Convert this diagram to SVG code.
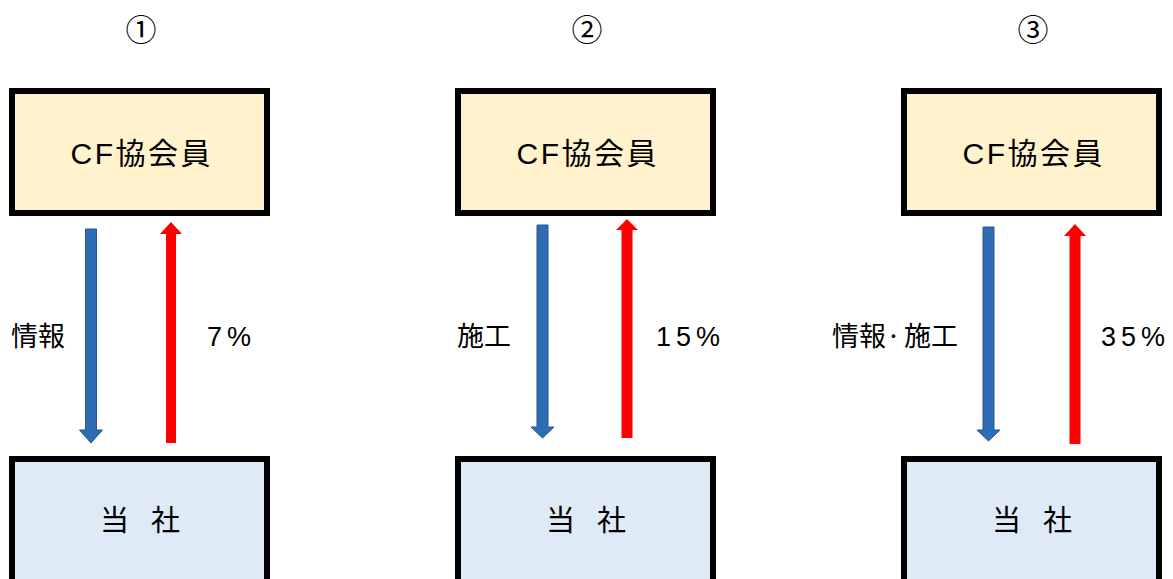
<svg xmlns="http://www.w3.org/2000/svg" width="1173" height="579" viewBox="0 0 1173 579">
<style>
.top{fill:#FFF2CC;stroke:#000;stroke-width:6}
.bot{fill:#DEEBF7;stroke:#000;stroke-width:6}
.t{font-family:"Liberation Sans","Noto Sans CJK JP",sans-serif;fill:#000}
.j{font-family:"Noto Sans CJK JP","Liberation Sans",sans-serif;fill:#000}
.blue{fill:#2E6DB4;stroke:#2F528F;stroke-width:1}
.red{fill:#FF0000}
</style>
<rect width="1173" height="579" fill="#fff"/>
<g id="headers">
<text class="j" x="141" y="41" font-size="31" text-anchor="middle">①</text>
<text class="j" x="587" y="41" font-size="31" text-anchor="middle">②</text>
<text class="j" x="1033" y="41" font-size="31" text-anchor="middle">③</text>
</g>
<g id="cf1"><rect class="top" x="12" y="91" width="255" height="122"/><text class="t" x="70.5" y="163.5" font-size="30" letter-spacing="2.5">CF協会員</text></g>
<g id="cf2"><rect class="top" x="458" y="91" width="255" height="122"/><text class="t" x="516.5" y="163.5" font-size="30" letter-spacing="2.5">CF協会員</text></g>
<g id="cf3"><rect class="top" x="904" y="91" width="255" height="122"/><text class="t" x="962.5" y="163.5" font-size="30" letter-spacing="2.5">CF協会員</text></g>
<g id="co1"><rect class="bot" x="12" y="459" width="255" height="140"/><text class="j" x="100" y="531" font-size="29">当<tspan x="151">社</tspan></text></g>
<g id="co2"><rect class="bot" x="458" y="459" width="255" height="140"/><text class="j" x="546" y="531" font-size="29">当<tspan x="597">社</tspan></text></g>
<g id="co3"><rect class="bot" x="904" y="459" width="255" height="140"/><text class="j" x="992" y="531" font-size="29">当<tspan x="1043">社</tspan></text></g>
<g id="connectors">
<path class="blue" d="M85.5,229 H96.5 V430 H102.5 L91,443 L79.5,430 H85.5 Z"/>
<path class="red" d="M166,443 V234 H160 L171,222 L182,234 H176 V443 Z"/>
<path class="blue" d="M537,225 H548 V427 H554 L542.5,438 L531,427 H537 Z"/>
<path class="red" d="M621.5,438 V230 H616 L627,219 L638,230 H632.5 V438 Z"/>
<path class="blue" d="M983,227 H994 V430 H1000 L988.5,441 L977,430 H983 Z"/>
<path class="red" d="M1069.5,444 V236 H1064 L1075,224 L1086,236 H1080.5 V444 Z"/>
</g>
<g id="labels">
<text class="j" x="11" y="346" font-size="27">情報</text>
<text class="t" x="207" y="346" font-size="27" letter-spacing="5">7%</text>
<text class="j" x="457" y="346" font-size="27">施工</text>
<text class="t" x="656" y="346" font-size="27" letter-spacing="5">15%</text>
<text class="j" x="832" y="346" font-size="27">情報<tspan x="886">·</tspan><tspan x="904">施工</tspan></text>
<text class="t" x="1101" y="346" font-size="27" letter-spacing="5">35%</text>
</g>
</svg>
